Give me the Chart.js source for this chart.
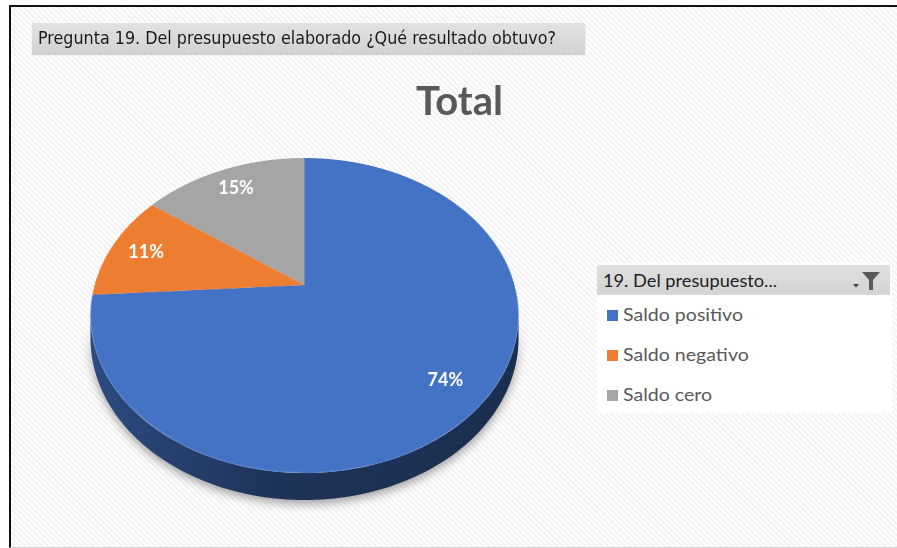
<!DOCTYPE html>
<html><head><meta charset="utf-8">
<script src="https://cdn.jsdelivr.net/npm/chart.js@4.4.0/dist/chart.umd.min.js"></script>
<style>
html,body{margin:0;padding:0;background:#fff;}
body{width:897px;height:548px;position:relative;overflow:hidden;}
#frame{position:absolute;left:9px;top:5px;width:900px;height:540px;border-top:2px solid #111;border-left:2px solid #111;border-bottom:1px solid #d4d4d4;
 background:repeating-linear-gradient(45deg,#fdfdfd 0px,#fdfdfd 1.5px,#eeeeee 2.8px,#fdfdfd 4px);}
#btn{position:absolute;left:32px;top:23px;width:553px;height:31px;background:linear-gradient(#e2e2e2,#d2d2d2);box-shadow:0 1px 1px rgba(0,0,0,0.15);}
#btnText{position:absolute;left:6px;top:4px;font-family:"DejaVu Sans Condensed","DejaVu Sans",sans-serif;font-size:18px;color:#1a1a1a;white-space:nowrap;line-height:22px;transform-origin:0 0;}
#title{position:absolute;left:416px;top:80px;font-family:Lato,"Open Sans",sans-serif;font-weight:bold;font-size:36px;color:#595959;white-space:nowrap;line-height:40px;}
#cv{position:absolute;left:0;top:0;}
#legend{position:absolute;left:597px;top:263px;width:295px;height:150px;background:rgba(255,255,255,0.92);}
#lhead{position:absolute;left:0;top:2px;width:293px;height:30px;background:linear-gradient(#e0e0e0,#d3d3d3);}
#lheadText{position:absolute;left:6px;top:4px;font-family:Lato,"Open Sans",sans-serif;font-size:18px;color:#1e1e1e;white-space:nowrap;line-height:22px;transform-origin:0 0;}
#filter{position:absolute;left:254px;top:5px;}
.item{position:absolute;left:0;height:40px;width:290px;}
.sw{position:absolute;left:10px;top:15px;width:11px;height:11px;}
.lt{position:absolute;left:26px;top:7px;font-family:Lato,"Open Sans",sans-serif;font-size:18px;color:#595959;white-space:nowrap;line-height:24px;transform-origin:0 0;}
</style></head>
<body>
<div id="frame"></div>
<canvas id="cv" width="590" height="548"></canvas>
<div id="btn"><span id="btnText"></span></div>
<div id="title"></div>
<div id="legend">
  <div id="lhead"><span id="lheadText"></span>
    <svg id="filter" width="32" height="22" viewBox="0 0 32 22">
      <polygon points="2,14 8,14 5,17.5" fill="#444"/>
      <polygon points="11,2 29,2 22,10 22,20 18,20 18,10" fill="#5a5a5a"/>
    </svg>
  </div>
</div>
<script>
// ---- data ----
const categories = ['Saldo positivo', 'Saldo negativo', 'Saldo cero'];
const values = [74, 11, 15];
const colors = ['#4472C4', '#ED7D31', '#A5A5A5'];
const chartTitle = 'Total';
const fieldButtonText = 'Pregunta 19. Del presupuesto elaborado ¿Qué resultado obtuvo?';
const legendHeaderText = '19. Del presupuesto...';

// ---- perspective settings for the 3D look ----
const persp = {TX: 304.5, Y0: 285, K: 210, B: 151.6, c: 0.1937, D: 27, labelR: 0.82};
function proj(X, v) {
  const w = 1 - persp.c * v;
  return {x: persp.TX + persp.K * X / w, y: persp.Y0 + persp.B * v / w, w: w};
}
function shade(hex, f) {
  const n = parseInt(hex.slice(1), 16);
  const r = Math.round(((n >> 16) & 255) * f), g = Math.round(((n >> 8) & 255) * f), b = Math.round((n & 255) * f);
  return 'rgb(' + r + ',' + g + ',' + b + ')';
}

const tiltPlugin = {
  id: 'tilt',
  afterDatasetsDraw(chart) {
    const ctx = chart.ctx;
    const meta = chart.getDatasetMeta(0);
    const first = meta.data[0];
    const cx = first.x, cy = first.y, R = first.outerRadius;
    const size = Math.ceil(2 * R) + 4;
    const src = document.createElement('canvas');
    src.width = size; src.height = size;
    src.getContext('2d').drawImage(chart.canvas, cx - size / 2, cy - size / 2, size, size, 0, 0, size, size);
    ctx.save();
    ctx.setTransform(1, 0, 0, 1, 0, 0);
    ctx.clearRect(0, 0, chart.canvas.width, chart.canvas.height);

    // side walls (visible near rim)
    const amin = Math.asin(persp.c), amax = Math.PI - amin;
    meta.data.forEach((el, i) => {
      for (const k of [-1, 0, 1]) {
        const s = Math.max(el.startAngle + k * 2 * Math.PI, amin);
        const e = Math.min(el.endAngle + k * 2 * Math.PI, amax);
        if (e <= s) continue;
        const N = 120, top = [], bot = [];
        for (let j = 0; j <= N; j++) {
          const a = s + (e - s) * j / N;
          const p = proj(Math.cos(a), Math.sin(a));
          top.push(p);
          bot.push({x: p.x, y: p.y + persp.D * (1 - persp.c) / p.w});
        }
        const g = ctx.createLinearGradient(persp.TX - persp.K * 1.02, 0, persp.TX + persp.K * 1.02, 0);
        g.addColorStop(0, shade(colors[i], 0.66));
        g.addColorStop(0.4, shade(colors[i], 0.46));
        g.addColorStop(1, shade(colors[i], 0.40));
        ctx.beginPath();
        top.forEach((p, j) => j ? ctx.lineTo(p.x, p.y) : ctx.moveTo(p.x, p.y));
        for (let j = bot.length - 1; j >= 0; j--) ctx.lineTo(bot[j].x, bot[j].y);
        ctx.closePath();
        ctx.shadowColor = 'rgba(0,0,0,0.35)';
        ctx.shadowBlur = 10;
        ctx.shadowOffsetY = 4;
        ctx.fillStyle = g;
        ctx.fill();
        ctx.shadowColor = 'transparent';
      }
    });

    // top face, warped row by row
    ctx.imageSmoothingEnabled = true;
    const yTop = proj(0, -1).y, yBot = proj(0, 1).y;
    for (let y = Math.floor(yTop) - 1; y <= Math.ceil(yBot); y++) {
      const d = y + 0.5 - persp.Y0;
      const v = d / (persp.B + persp.c * d);
      if (v < -1.003 || v > 1.003) continue;
      const sc = persp.K / (1 - persp.c * v);
      const sy = size / 2 + v * R - 0.5;
      ctx.drawImage(src, size / 2 - R, sy, 2 * R, 1, persp.TX - sc, y, 2 * sc, 1);
    }

    // data labels
    const total = values.reduce((a, b) => a + b, 0);
    ctx.font = 'bold 18px Lato';
    ctx.fillStyle = '#ffffff';
    ctx.textAlign = 'center';
    ctx.textBaseline = 'middle';
    meta.data.forEach((el, i) => {
      const m = (el.startAngle + el.endAngle) / 2;
      const p = proj(persp.labelR * Math.cos(m), persp.labelR * Math.sin(m));
      ctx.fillText(Math.round(values[i] / total * 100) + '%', p.x, p.y);
    });
    ctx.restore();
  }
};

function fitX(el, w) {
  const r = el.getBoundingClientRect().width;
  const f = w / r;
  el.style.transform = 'scaleX(' + f + ')';
  return f;
}
function fit(el, w) {
  const r = el.getBoundingClientRect().width;
  const fs = parseFloat(getComputedStyle(el).fontSize);
  el.style.fontSize = (fs * w / r) + 'px';
}

function build() {
  document.getElementById('btnText').textContent = fieldButtonText;
  document.getElementById('title').textContent = chartTitle;
  document.getElementById('lheadText').textContent = legendHeaderText;
  const legend = document.getElementById('legend');
  categories.forEach((c, i) => {
    const row = document.createElement('div');
    row.className = 'item';
    row.style.top = (32 + i * 40) + 'px';
    const sw = document.createElement('div');
    sw.className = 'sw'; sw.style.background = colors[i];
    const t = document.createElement('span');
    t.className = 'lt'; t.textContent = c;
    row.appendChild(sw); row.appendChild(t);
    legend.appendChild(row);
  });
  fitX(document.getElementById('btnText'), 518);
  fit(document.getElementById('title'), 87);
  fitX(document.getElementById('lheadText'), 174);
  const lts = document.querySelectorAll('.lt');
  const f = fitX(lts[0], 120);
  lts.forEach(e => e.style.transform = 'scaleX(' + f + ')');

  new Chart(document.getElementById('cv'), {
    type: 'pie',
    data: {labels: categories, datasets: [{data: values, backgroundColor: colors, borderWidth: 0}]},
    options: {
      responsive: false,
      animation: false,
      events: [],
      layout: {padding: {top: 64, bottom: 64, left: 85, right: 85}},
      plugins: {legend: {display: false}, tooltip: {enabled: false}, title: {display: false}}
    },
    plugins: [tiltPlugin]
  });
}

Promise.all([
  document.fonts.load('bold 18px Lato'),
  document.fonts.load('18px Lato'),
  document.fonts.load('18px "DejaVu Sans Condensed"')
]).then(build, build);
</script>
</body></html>
